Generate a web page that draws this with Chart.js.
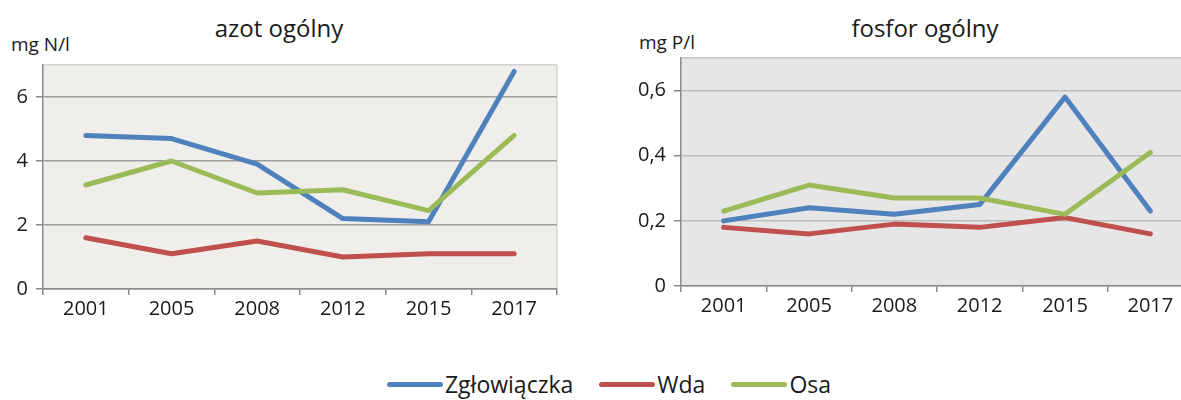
<!DOCTYPE html>
<html>
<head>
<meta charset="utf-8">
<script src="https://cdn.jsdelivr.net/npm/chart.js@4.4.1/dist/chart.umd.min.js"></script>
<style>
  body { margin: 0; width: 1181px; height: 400px; overflow: hidden; background: #fff;
         font-family: 'Open Sans', sans-serif; color: #1a1a1a; position: relative; }
  .box { position: absolute; top: 0; height: 330px; }
  .title { position: absolute; top: 14px; font-size: 24px; line-height: 1.2; white-space: nowrap; transform: translateX(-50%); }
  .unit { position: absolute; font-size: 19px; line-height: 1.2; white-space: nowrap; }
  #legend { position: absolute; top: 371px; left: 0; width: 1218px; display: flex; justify-content: center; font-size: 23px; line-height: 1.2; }
  #legend .item { display: flex; align-items: center; margin: 0 13px; }
  #legend .line { display: inline-block; width: 56px; height: 5px; border-radius: 3px; margin-right: 2px; }
</style>
</head>
<body>
<div class="title" style="left:279px">azot ogólny</div>
<div class="unit" style="left:11px; top:33px">mg N/l</div>
<div class="title" style="left:925px">fosfor ogólny</div>
<div class="unit" style="left:639px; top:31px">mg P/l</div>

<div class="box" style="left:0; width:575px"><canvas id="azotChart"></canvas></div>
<div class="box" style="left:600px; width:620px"><canvas id="fosforChart"></canvas></div>
<div id="legend"></div>

<script>
// data
const years = ['2001', '2005', '2008', '2012', '2015', '2017'];
const seriesNames = ['Zgłowiączka', 'Wda', 'Osa'];
const seriesColors = ['#4f81bd', '#c0504d', '#9bbb59'];

const azotZglowiaczka = [4.8, 4.7, 3.9, 2.2, 2.1, 6.8];
const azotWda = [1.6, 1.1, 1.5, 1.0, 1.1, 1.1];
const azotOsa = [3.25, 4.0, 3.0, 3.1, 2.45, 4.8];

const fosforZglowiaczka = [0.20, 0.24, 0.22, 0.25, 0.58, 0.23];
const fosforWda = [0.18, 0.16, 0.19, 0.18, 0.21, 0.16];
const fosforOsa = [0.23, 0.31, 0.27, 0.27, 0.22, 0.41];

// fills the plot area and draws its light right edge
const plotBackground = {
    id: 'plotBackground',
    beforeDraw(chart, args, opts) {
        const { ctx, chartArea: a } = chart;
        ctx.save();
        ctx.fillStyle = opts.color;
        ctx.fillRect(a.left, a.top, a.width, a.height);
        ctx.strokeStyle = opts.edge;
        ctx.lineWidth = 1.5;
        ctx.beginPath();
        ctx.moveTo(a.right, a.top);
        ctx.lineTo(a.right, a.bottom);
        ctx.stroke();
        ctx.restore();
    }
};

function makeChart(id, values, cfg) {
    const datasets = values.map((data, i) => ({
        label: seriesNames[i],
        data,
        borderColor: seriesColors[i],
        backgroundColor: seriesColors[i],
        borderWidth: 5,
        borderCapStyle: 'round',
        borderJoinStyle: 'round',
        pointRadius: 0,
        tension: 0,
        order: values.length - 1 - i // green on top, like the original
    }));

    return new Chart(document.getElementById(id), {
        type: 'line',
        data: { labels: years, datasets },
        plugins: [plotBackground],
        options: {
            responsive: true,
            maintainAspectRatio: false,
            animation: false,
            layout: { padding: cfg.padding },
            plugins: {
                legend: { display: false },
                tooltip: { enabled: false },
                plotBackground: { color: cfg.bg, edge: cfg.edge }
            },
            scales: {
                x: {
                    offset: true,
                    afterFit: s => { s.height = 30; },
                    border: { color: '#8a8a8a', width: 1.5 },
                    grid: { offset: true, drawOnChartArea: false, drawTicks: true, tickLength: 6, color: '#8a8a8a', lineWidth: 1.5 },
                    ticks: { color: '#1a1a1a', padding: 2, font: { family: 'Open Sans', size: 20 } }
                },
                y: {
                    min: 0,
                    max: cfg.max,
                    afterFit: s => { s.width = cfg.axisWidth; },
                    border: { color: '#8a8a8a', width: 1.5 },
                    grid: {
                        tickLength: 7,
                        lineWidth: 1.5,
                        color: c => c.tick && c.tick.value >= cfg.max - 1e-9 ? cfg.edge : cfg.grid,
                        tickColor: c => c.tick && c.tick.value >= cfg.max - 1e-9 ? 'rgba(0,0,0,0)' : '#8a8a8a'
                    },
                    ticks: {
                        stepSize: cfg.step,
                        color: '#1a1a1a',
                        padding: 8,
                        font: { family: 'Open Sans', size: 20 },
                        callback: cfg.label
                    }
                }
            }
        }
    });
}

makeChart('azotChart', [azotZglowiaczka, azotWda, azotOsa], {
    max: 7, step: 2, axisWidth: 43,
    padding: { top: 65, right: 18, bottom: 11, left: 0 },
    bg: '#f0eeeb', grid: '#9d9d9d', edge: '#d4d4d4',
    label: v => (v >= 6.5 ? '' : String(v))
});

makeChart('fosforChart', [fosforZglowiaczka, fosforWda, fosforOsa], {
    max: 0.7, step: 0.2, axisWidth: 81,
    padding: { top: 58, right: 27, bottom: 14, left: 0 },
    bg: '#e6e6e6', grid: '#bdbdbd', edge: '#c8c8c8',
    label: v => (v > 0.65 ? '' : v === 0 ? '0' : v.toFixed(1).replace('.', ','))
});

// shared legend under both charts
document.getElementById('legend').innerHTML = seriesNames.map((name, i) => `
    <span class="item"><span class="line" style="background:${seriesColors[i]}"></span>${name}</span>
`).join('');
</script>
</body>
</html>
